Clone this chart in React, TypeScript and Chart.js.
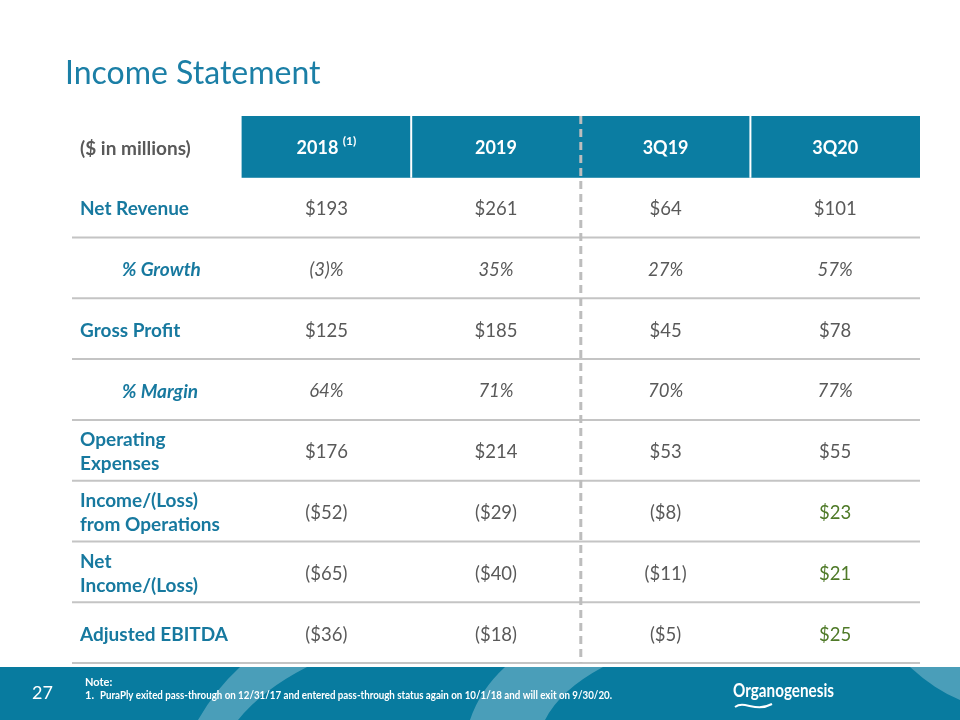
import React, { useEffect, useRef } from "react";
import { Chart, registerables } from "chart.js";

Chart.register(...registerables);

const title = "Income Statement";
const unitLabel = "($ in millions)";
const columns = ["2018", "2019", "3Q19", "3Q20"];
const columnNotes = ["(1)", "", "", ""];
const rowLabels = [
  "Net Revenue",
  "% Growth",
  "Gross Profit",
  "% Margin",
  "Operating\nExpenses",
  "Income/(Loss)\nfrom Operations",
  "Net\nIncome/(Loss)",
  "Adjusted EBITDA",
];
const subRows = [false, true, false, true, false, false, false, false];
const values2018 = ["$193", "(3)%", "$125", "64%", "$176", "($52)", "($65)", "($36)"];
const values2019 = ["$261", "35%", "$185", "71%", "$214", "($29)", "($40)", "($18)"];
const values3Q19 = ["$64", "27%", "$45", "70%", "$53", "($8)", "($11)", "($5)"];
const values3Q20 = ["$101", "57%", "$78", "77%", "$55", "$23", "$21", "$25"];
const positive3Q20 = [false, false, false, false, false, true, true, true];
const pageNumber = "27";
const noteTitle = "Note:";
const noteText =
  "PuraPly exited pass-through on 12/31/17 and entered pass-through status again on 10/1/18 and will exit on 9/30/20.";
const logoText = "Organogenesis";

const FONT = '"Lato", "Open Sans", sans-serif';
const TEAL = "#17799f";
const HEADER = "#0b7da2";
const GRAY = "#595959";
const GREEN = "#4f7a28";
const LINE = "#c4c4c4";

const tablePlugin = {
  id: "tableDraw",
  afterDraw(chart: any) {
    const ctx: CanvasRenderingContext2D = chart.ctx;
    const xs = chart.scales.x;
    const ys = chart.scales.y;
    const area = chart.chartArea;
    const colW = xs.getPixelForValue(1) - xs.getPixelForValue(0);
    const rowH = ys.getPixelForValue(1) - ys.getPixelForValue(0);
    const allValues = [values2018, values2019, values3Q19, values3Q20];
    const dy = 2;

    ctx.save();
    // title
    ctx.fillStyle = "#1b7fa6";
    ctx.font = `32px ${FONT}`;
    ctx.textAlign = "left";
    ctx.textBaseline = "alphabetic";
    ctx.fillText(title, 65, 84);

    // header fill
    const hy = ys.getPixelForValue(0);
    const hTop = hy - rowH / 2;
    const hx0 = xs.getPixelForValue(1) - colW / 2;
    ctx.fillStyle = HEADER;
    ctx.fillRect(hx0, hTop, area.right - hx0, rowH + 1);

    // white separators in header
    ctx.strokeStyle = "#ffffff";
    ctx.lineWidth = 2;
    [2, 4].forEach((c) => {
      const bx = xs.getPixelForValue(c) - colW / 2;
      ctx.beginPath();
      ctx.moveTo(bx, hTop);
      ctx.lineTo(bx, hTop + rowH + 1);
      ctx.stroke();
    });

    // row lines
    ctx.strokeStyle = LINE;
    ctx.lineWidth = 2;
    for (let r = 1; r <= rowLabels.length; r++) {
      const by = ys.getPixelForValue(r) + rowH / 2;
      ctx.beginPath();
      ctx.moveTo(area.left, by);
      ctx.lineTo(area.right, by);
      ctx.stroke();
    }

    // dashed divider
    const dxl = xs.getPixelForValue(3) - colW / 2;
    ctx.strokeStyle = "#bdbdbd";
    ctx.lineWidth = 3;
    ctx.setLineDash([8, 5]);
    ctx.beginPath();
    ctx.moveTo(dxl, area.top);
    ctx.lineTo(dxl, area.bottom);
    ctx.stroke();
    ctx.setLineDash([]);

    // header texts
    ctx.textBaseline = "middle";
    ctx.fillStyle = GRAY;
    ctx.font = `bold 19px ${FONT}`;
    ctx.textAlign = "left";
    ctx.fillText(unitLabel, area.left + 8, hy + dy);
    columns.forEach((c, i) => {
      const cx = xs.getPixelForValue(i + 1);
      ctx.fillStyle = "#ffffff";
      ctx.font = `bold 18px ${FONT}`;
      const note = columnNotes[i];
      if (note) {
        const main = c + " ";
        const w1 = ctx.measureText(main).width;
        ctx.font = `bold 12px ${FONT}`;
        const w2 = ctx.measureText(note).width;
        const start = cx - (w1 + w2) / 2;
        ctx.textAlign = "left";
        ctx.font = `bold 18px ${FONT}`;
        ctx.fillText(main, start, hy + dy);
        ctx.font = `bold 12px ${FONT}`;
        ctx.fillText(note, start + w1, hy + dy - 7);
      } else {
        ctx.textAlign = "center";
        ctx.fillText(c, cx, hy + dy);
      }
    });

    // rows
    rowLabels.forEach((label, r) => {
      const cy = ys.getPixelForValue(r + 1) + dy;
      const italic = subRows[r];
      ctx.fillStyle = TEAL;
      ctx.textAlign = "left";
      ctx.font = `${italic ? "italic " : ""}bold 19px ${FONT}`;
      const lines = label.split("\n");
      const lh = 24;
      lines.forEach((ln, k) => {
        const ly = cy + (k - (lines.length - 1) / 2) * lh;
        ctx.fillText(ln, area.left + 8 + (italic ? 42 : 0), ly);
      });
      allValues.forEach((vals, c) => {
        const cx = xs.getPixelForValue(c + 1);
        ctx.textAlign = "center";
        ctx.font = `${italic ? "italic " : ""}18.5px ${FONT}`;
        ctx.fillStyle = c === 3 && positive3Q20[r] ? GREEN : GRAY;
        ctx.fillText(vals[r], cx, cy);
      });
    });

    // footer
    const fTop = 667;
    const W = chart.width;
    const H = chart.height;
    ctx.fillStyle = "#087b9f";
    ctx.fillRect(0, fTop, W, H - fTop);
    ctx.save();
    ctx.beginPath();
    ctx.rect(0, fTop, W, H - fTop);
    ctx.clip();
    ctx.fillStyle = "rgba(255,255,255,0.27)";
    // left band
    ctx.beginPath();
    ctx.moveTo(240, fTop);
    ctx.lineTo(307, fTop);
    ctx.quadraticCurveTo(262, 690, 238, H);
    ctx.lineTo(198, H);
    ctx.quadraticCurveTo(215, 690, 240, fTop);
    ctx.fill();
    // middle band
    ctx.beginPath();
    ctx.moveTo(505, fTop);
    ctx.lineTo(603, fTop);
    ctx.quadraticCurveTo(560, 690, 545, H);
    ctx.lineTo(470, H);
    ctx.quadraticCurveTo(480, 690, 505, fTop);
    ctx.fill();
    // right corner band
    ctx.beginPath();
    ctx.moveTo(910, fTop);
    ctx.lineTo(W, fTop);
    ctx.lineTo(W, 700);
    ctx.quadraticCurveTo(935, 690, 910, fTop);
    ctx.fill();
    ctx.restore();

    ctx.fillStyle = "#ffffff";
    ctx.textBaseline = "alphabetic";
    ctx.textAlign = "left";
    ctx.font = `18px ${FONT}`;
    ctx.fillText(pageNumber, 32, 699);
    ctx.font = `bold 11px ${FONT}`;
    ctx.fillText(noteTitle, 85, 686);
    ctx.fillText("1.", 85, 699);
    ctx.fillText(noteText, 100, 699, 512);
    ctx.font = `bold 18px ${FONT}`;
    ctx.fillText(logoText, 733, 697, 101);
    ctx.strokeStyle = "#ffffff";
    ctx.lineWidth = 2;
    ctx.beginPath();
    ctx.moveTo(735, 707);
    ctx.bezierCurveTo(745, 700, 755, 713, 772, 704);
    ctx.stroke();
    ctx.restore();
  },
};

export default function App() {
  const ref = useRef<HTMLCanvasElement | null>(null);
  useEffect(() => {
    document.body.style.margin = "0";
    if (!ref.current) return;
    const chart = new Chart(ref.current, {
      type: "line",
      data: { labels: ["", ...columns], datasets: [] },
      options: {
        responsive: false,
        animation: false,
        maintainAspectRatio: false,
        layout: { padding: { left: 72, right: 40, top: 116, bottom: 57 } },
        plugins: { legend: { display: false }, tooltip: { enabled: false } },
        scales: {
          x: { type: "category", labels: ["", ...columns], offset: true, display: false },
          y: { type: "category", labels: ["", ...rowLabels], offset: true, display: false },
        },
      },
      plugins: [tablePlugin],
    });
    return () => chart.destroy();
  }, []);
  return (
    <canvas
      ref={ref}
      width={960}
      height={720}
      style={{ display: "block", width: 960, height: 720 }}
    />
  );
}
